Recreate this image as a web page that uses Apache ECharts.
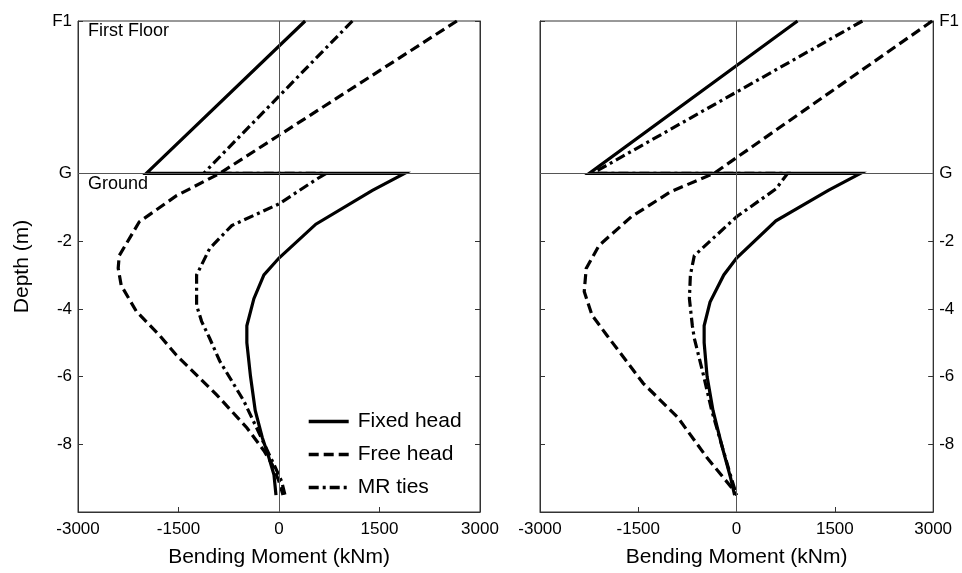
<!DOCTYPE html>
<html><head><meta charset="utf-8">
<script src="https://cdn.jsdelivr.net/npm/echarts@6/dist/echarts.min.js"></script>
<style>html,body{margin:0;padding:0;background:#fff}#c{width:962px;height:573px}</style>
</head><body><div id="c"></div>
<script>
// ---------- data ----------
const seriesNames = ['Fixed head', 'Free head', 'MR ties'];
const xTickValues = [-3000, -1500, 0, 1500, 3000];
const yTickValues = [-8, -6, -4, -2, 0, 4.5];
const yTickLabels = ['-8', '-6', '-4', '-2', 'G', 'F1'];
const xAxisTitle = 'Bending Moment (kNm)';
const yAxisTitle = 'Depth (m)';
const floorLabel = 'First Floor';
const groundLabel = 'Ground';

// Left panel
const leftFixedM = [390, -1980, 1875, 1395, 550, 0, -225, -375, -480, -480, -425, -355, -250, -150, -75, -45];
const leftFixedD = [4.5, 0, 0, -0.5, -1.5, -2.5, -3.0, -3.7, -4.5, -5.0, -6.0, -7.0, -7.8, -8.4, -8.9, -9.5];
const leftFreeM = [2655, -885, -1530, -2085, -2385, -2400, -2355, -2130, -1785, -1530, -930, -480, -225, -100, 0, 60];
const leftFreeD = [4.5, 0, -0.66, -1.43, -2.43, -2.8, -3.31, -4.07, -4.78, -5.37, -6.54, -7.51, -8.19, -8.6, -9.1, -9.5];
const leftMRM = [1095, -1125, 705, 570, 0, -705, -1035, -1230, -1230, -1155, -1035, -885, -525, -285, -75, 40, 90];
const leftMRD = [4.5, 0, 0, -0.16, -0.9, -1.54, -2.22, -3.0, -3.9, -4.37, -4.87, -5.54, -6.72, -7.72, -8.6, -9.1, -9.5];

// Right panel
const rightFixedM = [930, -2250, 1890, 1400, 600, 0, -195, -405, -495, -495, -450, -360, -230, -90, -30];
const rightFixedD = [4.5, 0, 0, -0.5, -1.4, -2.5, -3.0, -3.8, -4.5, -5.0, -6.0, -7.0, -8.0, -9.0, -9.5];
const rightFreeM = [2985, -345, -1005, -1605, -2100, -2295, -2325, -2205, -1980, -1425, -900, -450, -75, 0];
const rightFreeD = [4.5, 0, -0.54, -1.28, -2.13, -2.81, -3.49, -4.19, -4.78, -6.2, -7.2, -8.4, -9.28, -9.5];
const rightMRM = [1920, -2200, 780, 600, 0, -645, -705, -720, -675, -645, -500, -380, -230, -80, 0];
const rightMRD = [4.5, 0, 0, -0.46, -1.28, -2.43, -3.0, -3.7, -4.5, -4.87, -6.0, -7.0, -8.0, -9.0, -9.5];

// ---------- chart ----------
const FONT = 'Liberation Sans, Arial, sans-serif';
const zip = (m, d) => m.map((v, i) => [v, d[i]]);
const chart = echarts.init(document.getElementById('c'), null, {renderer: 'canvas'});

const styles = {
  'Fixed head': {type: 'solid', z: 4},
  'Free head': {type: [10, 5], z: 3},
  'MR ties': {type: [10, 4, 3, 4], z: 3}
};

function mkSeries(name, gi, m, d, withZero) {
  const s = {
    name: name, type: 'line', xAxisIndex: gi, yAxisIndex: gi * 2,
    data: zip(m, d), symbol: 'none', showSymbol: false, smooth: false,
    z: styles[name].z, silent: true,
    itemStyle: {color: '#000'},
    lineStyle: {color: '#000', width: 3.2, type: styles[name].type, cap: 'butt', join: 'miter'},
    animation: false
  };
  if (withZero) {
    s.markLine = {
      silent: true, symbol: 'none', label: {show: false}, animation: false,
      lineStyle: {color: '#555', width: 1, type: 'solid'},
      data: [{xAxis: 0}, {yAxis: 0}]
    };
  }
  return s;
}

function xAx(gi) {
  return {
    type: 'value', gridIndex: gi, min: -3000, max: 3000, interval: 1500,
    axisLine: {show: true, onZero: false, lineStyle: {color: '#333', width: 1}},
    axisTick: {show: true, inside: true, length: 5, lineStyle: {color: '#333'}},
    axisLabel: {fontSize: 17, color: '#000', margin: 9, fontFamily: FONT,
      customValues: xTickValues, formatter: v => String(v)},
    splitLine: {show: false},
    name: xAxisTitle, nameLocation: 'middle', nameGap: 35,
    nameTextStyle: {fontSize: 21, color: '#000', fontFamily: FONT}
  };
}
function yAx(gi, pos, showLabels, name) {
  const a = {
    type: 'value', gridIndex: gi, position: pos, min: -10, max: 4.5,
    axisLine: {show: true, onZero: false, lineStyle: {color: '#333', width: 1}},
    axisTick: {show: true, inside: true, length: 5, customValues: yTickValues, lineStyle: {color: '#333'}},
    axisLabel: {show: showLabels, customValues: yTickValues, fontSize: 17, color: '#000', margin: 6, fontFamily: FONT,
      formatter: v => { const i = yTickValues.findIndex(t => Math.abs(t - v) < 1e-6); return i >= 0 ? yTickLabels[i] : ''; }},
    splitLine: {show: false}
  };
  if (name) {
    a.name = name; a.nameLocation = 'middle'; a.nameGap = 45; a.nameRotate = 90;
    a.nameTextStyle = {fontSize: 21, color: '#000', fontFamily: FONT};
  }
  return a;
}

const option = {
  animation: false,
  backgroundColor: '#fff',
  textStyle: {fontFamily: FONT},
  grid: [
    {left: 78, top: 21, width: 402, height: 494, show: true, borderColor: '#333', borderWidth: 1, containLabel: false},
    {left: 540, top: 21, width: 399, height: 494, show: true, borderColor: '#333', borderWidth: 1, containLabel: false}
  ],
  xAxis: [xAx(0), xAx(1)],
  yAxis: [yAx(0, 'left', true, yAxisTitle), yAx(0, 'right', false), yAx(1, 'right', true), yAx(1, 'left', false)],
  legend: {
    data: seriesNames, orient: 'vertical', left: 302, top: 406,
    itemWidth: 40, itemHeight: 14, itemGap: 12,
    itemStyle: {color: 'rgba(0,0,0,0)', borderWidth: 0, opacity: 0},
    lineStyle: {width: 3.4, color: '#000'},
    textStyle: {fontSize: 21, color: '#000', fontFamily: FONT, padding: [0, 0, 0, 4]},
    selectedMode: false
  },
  series: [
    mkSeries('MR ties', 0, leftMRM, leftMRD, true),
    mkSeries('Free head', 0, leftFreeM, leftFreeD, false),
    mkSeries('Fixed head', 0, leftFixedM, leftFixedD, false),
    mkSeries('MR ties', 1, rightMRM, rightMRD, true),
    mkSeries('Free head', 1, rightFreeM, rightFreeD, false),
    mkSeries('Fixed head', 1, rightFixedM, rightFixedD, false)
  ]
};
chart.setOption(option);

// Annotations anchored to the left panel's axes
const pTop = chart.convertToPixel({gridIndex: 0}, [-3000, 4.5]);
const pG = chart.convertToPixel({gridIndex: 0}, [-3000, 0]);
chart.setOption({
  graphic: [
    {type: 'text', x: pTop[0] + 10, y: pTop[1] + 10, silent: true,
      style: {text: floorLabel, fill: '#000', font: '18px ' + FONT, verticalAlign: 'middle', align: 'left'}},
    {type: 'text', x: pG[0] + 10, y: pG[1] + 11, silent: true,
      style: {text: groundLabel, fill: '#000', font: '18px ' + FONT, verticalAlign: 'middle', align: 'left'}}
  ]
});
</script>
</body></html>
